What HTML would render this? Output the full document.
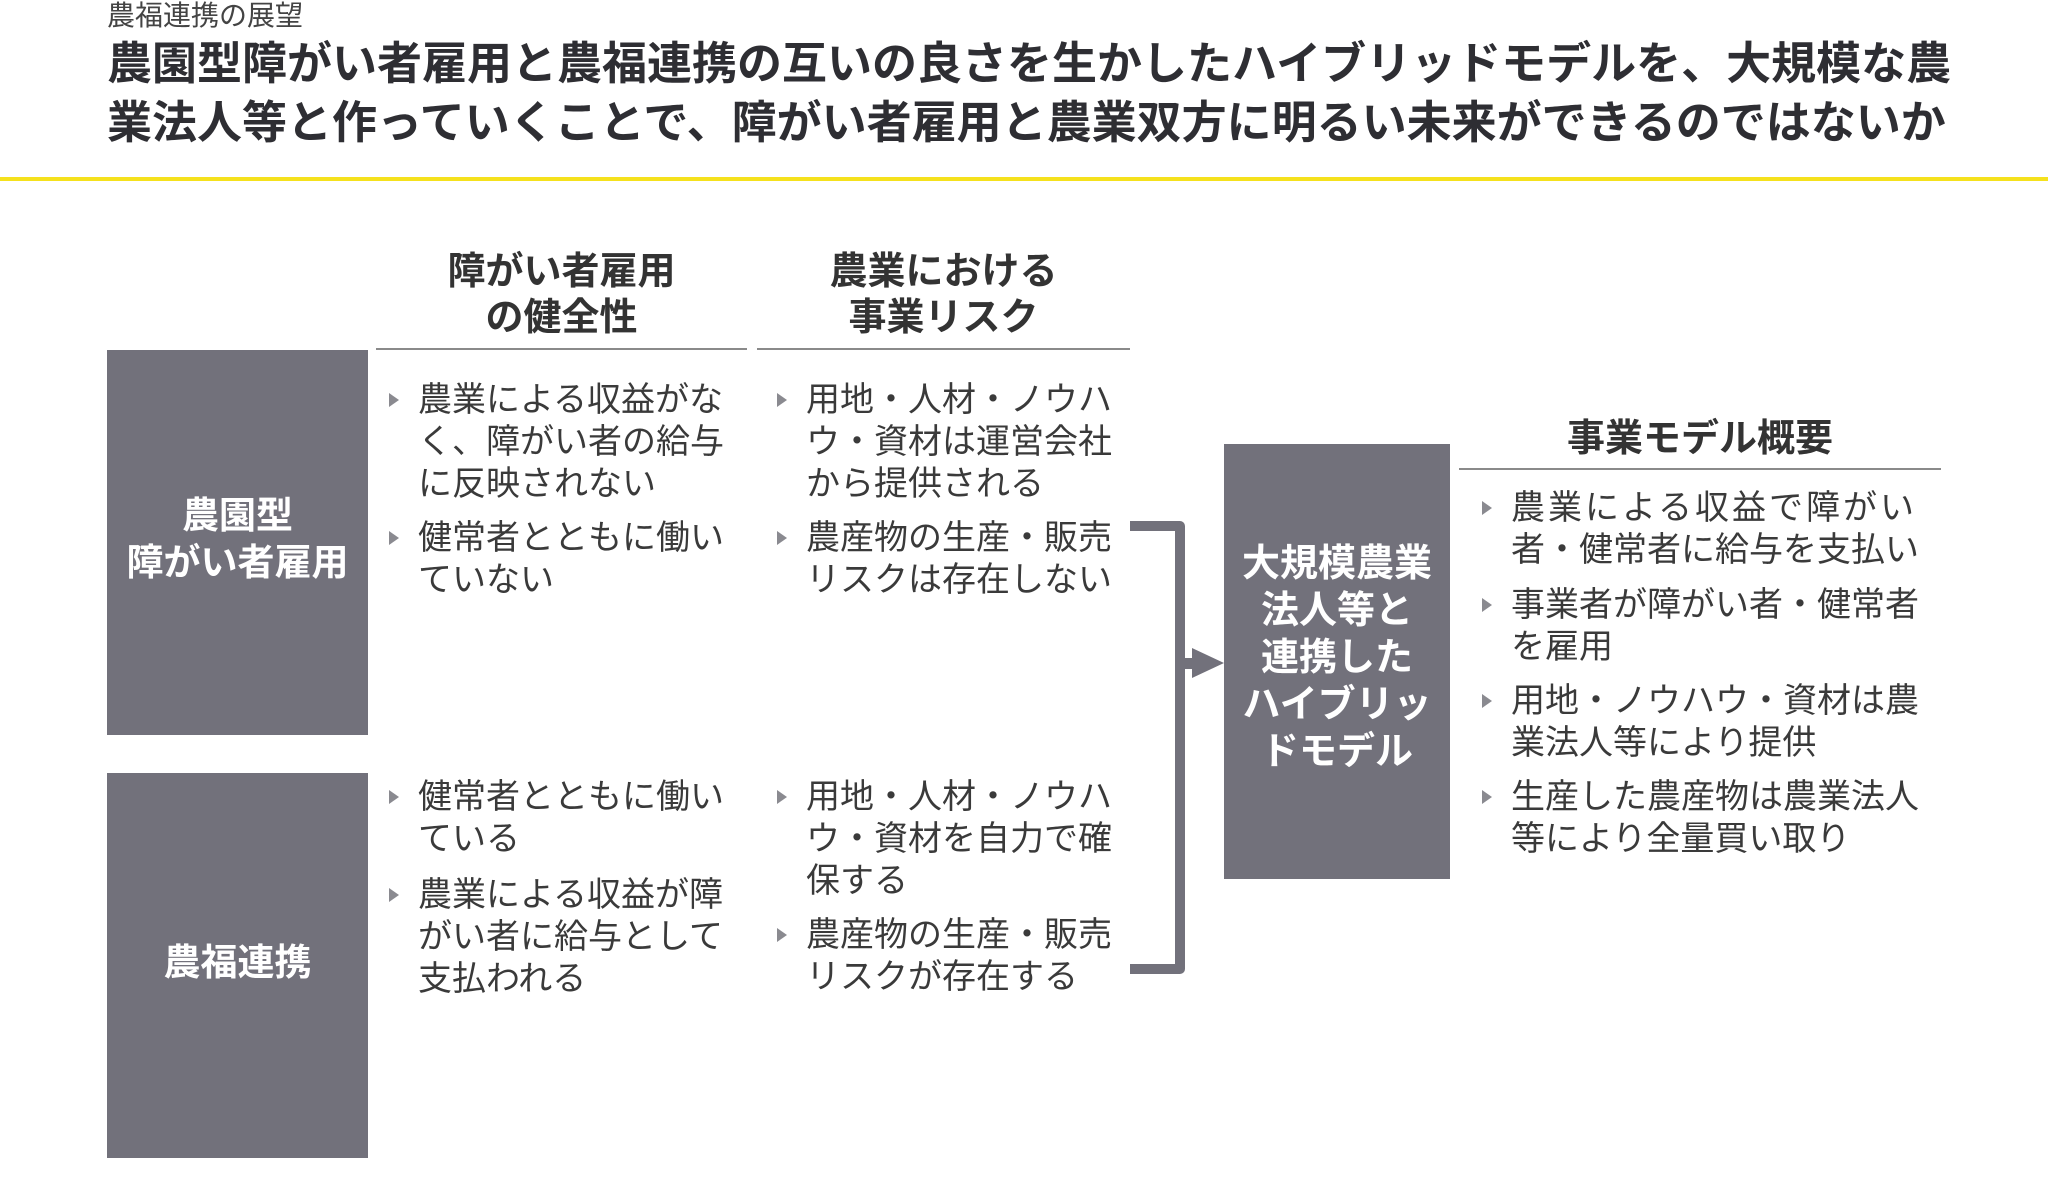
<!DOCTYPE html>
<html><head><meta charset="utf-8"><style>
body{margin:0;width:2048px;height:1187px;background:#fff;position:relative;overflow:hidden;font-family:"Liberation Sans","Noto Sans CJK JP",sans-serif;color:#333}
.a{position:absolute;white-space:nowrap}
.box{position:absolute;background:#72717b}
.bl{position:absolute;font-size:34px;line-height:42px;color:#3a3a3a}
.bl:before{content:"";position:absolute;left:-29px;top:14px;border-left:10px solid #8a8a90;border-top:7px solid transparent;border-bottom:7px solid transparent}
.h{position:absolute;font-size:38px;font-weight:bold;line-height:46px;text-align:center;color:#333}
.ln{position:absolute;height:2px;background:#8a8a8a}
.w{position:absolute;color:#fff;font-weight:bold;text-align:center}
</style></head><body>
<div class="a" style="left:107px;top:0px;font-size:28px;line-height:32px;color:#444">農福連携の展望</div>
<div class="a" style="left:107px;top:34px;font-size:45px;line-height:59px;font-weight:bold;color:#2e2e33">農園型障がい者雇用と農福連携の互いの良さを生かしたハイブリッドモデルを、大規模な農<br>業法人等と作っていくことで、障がい者雇用と農業双方に明るい未来ができるのではないか</div>
<div style="position:absolute;left:0;top:177px;width:2048px;height:4px;background:#f5e11d"></div>

<div class="h" style="left:376px;width:371px;top:249px">障がい者雇用<br>の健全性</div>
<div class="h" style="left:757px;width:373px;top:249px">農業における<br>事業リスク</div>
<div class="ln" style="left:376px;width:371px;top:348px"></div>
<div class="ln" style="left:757px;width:373px;top:348px"></div>

<div class="box" style="left:107px;top:350px;width:261px;height:385px"></div>
<div class="box" style="left:107px;top:773px;width:261px;height:385px"></div>
<div class="w" style="left:107px;width:261px;top:492px;font-size:37px;line-height:47px">農園型<br>障がい者雇用</div>
<div class="w" style="left:107px;width:261px;top:939px;font-size:37px;line-height:47px">農福連携</div>

<div class="bl" style="left:418px;top:379px">農業による収益がな<br>く、障がい者の給与<br>に反映されない</div>
<div class="bl" style="left:418px;top:517px">健常者とともに働い<br>ていない</div>
<div class="bl" style="left:806px;top:379px">用地・人材・ノウハ<br>ウ・資材は運営会社<br>から提供される</div>
<div class="bl" style="left:806px;top:517px">農産物の生産・販売<br>リスクは存在しない</div>

<div class="bl" style="left:418px;top:776px">健常者とともに働い<br>ている</div>
<div class="bl" style="left:418px;top:874px">農業による収益が障<br>がい者に給与として<br>支払われる</div>
<div class="bl" style="left:806px;top:776px">用地・人材・ノウハ<br>ウ・資材を自力で確<br>保する</div>
<div class="bl" style="left:806px;top:914px">農産物の生産・販売<br>リスクが存在する</div>

<svg class="a" style="left:0;top:0" width="2048" height="1187">
<path d="M1130 526 H1180 V969 H1130" fill="none" stroke="#72717b" stroke-width="10" stroke-linejoin="round"/>
<rect x="1180" y="658" width="14" height="11" fill="#72717b"/>
<polygon points="1192,648 1224,663 1192,678" fill="#72717b"/>
</svg>

<div class="box" style="left:1224px;top:444px;width:226px;height:435px"></div>
<div class="w" style="left:1224px;width:226px;top:541px;font-size:38px;line-height:47px">大規模農業<br>法人等と<br>連携した<br>ハイブリッ<br>ドモデル</div>

<div class="h" style="left:1459px;width:482px;top:416px">事業モデル概要</div>
<div class="ln" style="left:1459px;width:482px;top:468px"></div>
<div class="bl" style="left:1511px;top:487px"><span style="letter-spacing:3px">農業による収益で障がい</span><br>者・健常者に給与を支払い</div>
<div class="bl" style="left:1511px;top:584px">事業者が障がい者・健常者<br>を雇用</div>
<div class="bl" style="left:1511px;top:680px">用地・ノウハウ・資材は農<br>業法人等により提供</div>
<div class="bl" style="left:1511px;top:776px">生産した農産物は農業法人<br>等により全量買い取り</div>
</body></html>
